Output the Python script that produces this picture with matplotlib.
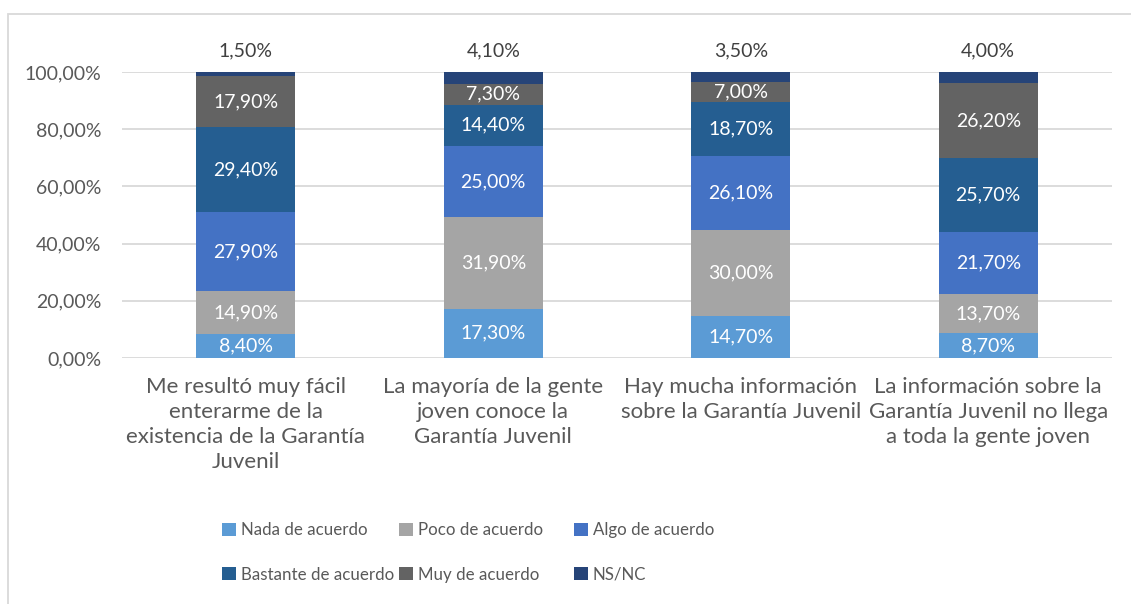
import matplotlib
matplotlib.use("Agg")
import matplotlib.pyplot as plt
from matplotlib.patches import Patch, Rectangle
import numpy as np

plt.rcParams['font.family'] = ['Lato', 'DejaVu Sans']

categories = [
    "Me resultó muy fácil\nenterarme de la\nexistencia de la Garantía\nJuvenil",
    "La mayoría de la gente\njoven conoce la\nGarantía Juvenil",
    "Hay mucha información\nsobre la Garantía Juvenil",
    "La información sobre la\nGarantía Juvenil no llega\na toda la gente joven",
]
series_names = ["Nada de acuerdo", "Poco de acuerdo", "Algo de acuerdo",
                "Bastante de acuerdo", "Muy de acuerdo", "NS/NC"]
nada = [8.4, 17.3, 14.7, 8.7]
poco = [14.9, 31.9, 30.0, 13.7]
algo = [27.9, 25.0, 26.1, 21.7]
bastante = [29.4, 14.4, 18.7, 25.7]
muy = [17.9, 7.3, 7.0, 26.2]
nsnc = [1.5, 4.1, 3.5, 4.0]
yticks = [0, 20, 40, 60, 80, 100]

series = [nada, poco, algo, bastante, muy, nsnc]
colors = ["#5B9BD5", "#A5A5A5", "#4472C4", "#255E91", "#636363", "#264478"]
text_grey = "#595959"

fig = plt.figure(figsize=(11.31, 6.04), dpi=100)
ax = fig.add_axes([122/1131, 1-358/604, 990/1131, 286/604])

x = np.arange(len(categories))
bottom = np.zeros(len(categories))
for si, (vals, col) in enumerate(zip(series, colors)):
    vals = np.array(vals)
    ax.bar(x, vals, width=0.4, bottom=bottom, color=col, zorder=3)
    for xi, v, b in zip(x, vals, bottom):
        lab = f"{v:.2f}%".replace(".", ",")
        if si == len(series) - 1:
            ax.text(xi, 107.3, lab, ha="center", va="center", fontsize=14,
                    color="#404040", clip_on=False)
        else:
            ax.text(xi, b + v/2, lab, ha="center", va="center", fontsize=14,
                    color="white", zorder=4)
    bottom = bottom + vals

ax.set_xlim(-0.5, len(categories) - 0.5)
ax.set_ylim(0, 100)
ax.set_yticks(yticks)
ax.set_yticklabels([f"{t:.2f}%".replace(".", ",") for t in yticks])
ax.set_xticks(x)
ax.set_xticklabels(categories, linespacing=1.3)
ax.tick_params(axis="both", length=0, colors=text_grey)
ax.tick_params(axis="x", pad=14, labelsize=16)
ax.tick_params(axis="y", pad=15, labelsize=14)
ax.grid(axis="y", color="#D9D9D9", linewidth=1.3, zorder=0)
for s in ax.spines.values():
    s.set_visible(False)

# figure border
fig.add_artist(Rectangle((8/1131, -0.05), 1.2, 1-14/604+0.05, transform=fig.transFigure,
                         fill=False, edgecolor="#D9D9D9", linewidth=1.3))

# legend: three equal-width columns
col_x = [222, 399, 574]
for ci in range(3):
    handles = [Patch(facecolor=colors[ci]), Patch(facecolor=colors[ci + 3])]
    labels = [series_names[ci], series_names[ci + 3]]
    fig.legend(handles, labels, loc="upper left",
               bbox_to_anchor=(col_x[ci]/1131, 1-522/604), frameon=False,
               fontsize=12.2, labelcolor=text_grey, handlelength=0.8,
               handleheight=0.8, handletextpad=0.3, borderpad=0,
               labelspacing=1.7, borderaxespad=0)

fig.savefig("out.png", dpi=100)
